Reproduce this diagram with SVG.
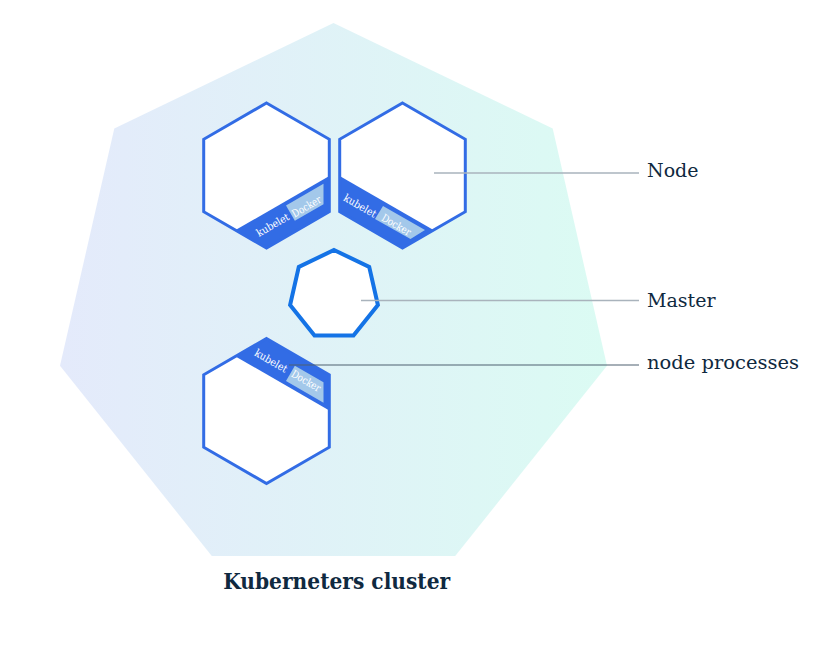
<svg xmlns="http://www.w3.org/2000/svg" width="825" height="649" viewBox="0 0 825 649">
<defs>
<linearGradient id="bg" x1="60" y1="0" x2="608" y2="0" gradientUnits="userSpaceOnUse">
<stop offset="0" stop-color="#e4eafb"/>
<stop offset="1" stop-color="#dbfbf3"/>
</linearGradient>
<style>
.hexw{fill:#ffffff}
.hexs{fill:none;stroke:#326ce5;stroke-width:3;stroke-linejoin:miter}
.band{fill:#326ce5}
.dock{fill:#a3c8ea}
.small{font-family:"DejaVu Serif","Liberation Serif",serif;font-size:10.5px;fill:#ffffff}
.lbl{font-family:"DejaVu Serif","Liberation Serif",serif;font-size:19px;fill:#0f2940}
.ttl{font-family:"DejaVu Serif","Liberation Serif",serif;font-size:21.5px;font-weight:bold;fill:#0f2940}
.lead{stroke:#a9b3bc;stroke-width:1.5;fill:none}
.lead2{stroke:#4f6070;stroke-width:1.2;fill:none}
</style>
</defs>
<rect width="825" height="649" fill="#ffffff"/>
<g id="cluster">
<polygon points="333.5,23 552.7,128.6 607,365.8 455.2,556 211.8,556 60,365.8 114.3,128.6" fill="url(#bg)"/>
<text class="ttl" x="336.7" y="589" text-anchor="middle" textLength="227" lengthAdjust="spacingAndGlyphs">Kuberneters cluster</text>
</g>
<g id="node1">
<polygon class="hexw" points="266.5,103 329.3,139.25 329.3,211.75 266.5,248 203.7,211.75 203.7,139.25"/>
<polygon class="band" points="235.5,230.1 329.3,176 329.3,211.75 266.5,248"/>
<polygon class="dock" points="286,205.5 323.5,183.85 323.5,204.3 294.85,220.8"/>
<text class="small" transform="translate(274.5,228) rotate(-30)" text-anchor="middle" textLength="36" lengthAdjust="spacingAndGlyphs">kubelet</text>
<text class="small" transform="translate(308.4,209.7) rotate(-30)" text-anchor="middle" textLength="32" lengthAdjust="spacingAndGlyphs">Docker</text>
<polygon class="hexs" points="266.5,103 329.3,139.25 329.3,211.75 266.5,248 203.7,211.75 203.7,139.25"/>
</g>
<g id="node2">
<polygon class="hexw" points="402.5,103 465.3,139.25 465.3,211.75 402.5,248 339.7,211.75 339.7,139.25"/>
<polygon class="band" points="339.7,176 433.5,230.1 402.5,248 339.7,211.75"/>
<polygon class="dock" points="383,206 425,230 410.5,239 375,219"/>
<text class="small" transform="translate(358.3,209) rotate(30)" text-anchor="middle" textLength="36" lengthAdjust="spacingAndGlyphs">kubelet</text>
<text class="small" transform="translate(394.5,228) rotate(30)" text-anchor="middle" textLength="32" lengthAdjust="spacingAndGlyphs">Docker</text>
<polygon class="hexs" points="402.5,103 465.3,139.25 465.3,211.75 402.5,248 339.7,211.75 339.7,139.25"/>
</g>
<g id="node3">
<polygon class="hexw" points="266.5,338.5 329.3,374.75 329.3,447.25 266.5,483.5 203.7,447.25 203.7,374.75"/>
<polygon class="band" points="235.5,356.4 329.3,410.5 329.3,374.75 266.5,338.5"/>
<polygon class="dock" points="294.85,365.7 323.5,382.2 323.5,402.65 286,381"/>
<text class="small" transform="translate(269.3,364) rotate(30)" text-anchor="middle" textLength="36" lengthAdjust="spacingAndGlyphs">kubelet</text>
<text class="small" transform="translate(304.3,384) rotate(30)" text-anchor="middle" textLength="32" lengthAdjust="spacingAndGlyphs">Docker</text>
<polygon class="hexs" points="266.5,338.5 329.3,374.75 329.3,447.25 266.5,483.5 203.7,447.25 203.7,374.75"/>
</g>
<g id="master">
<polygon points="334,250 369.2,266.9 377.9,305 353.5,335.5 314.5,335.5 290.1,305 298.8,266.9" fill="#ffffff" stroke="#1473e6" stroke-width="4" stroke-linejoin="miter"/>
</g>
<g id="connectors">
<line class="lead" x1="434" y1="173" x2="639" y2="173"/>
<line class="lead" x1="361" y1="300.5" x2="639" y2="300.5"/>
<line class="lead2" x1="289" y1="365" x2="639" y2="365"/>
</g>
<g id="labels">
<text class="lbl" x="647" y="176.5">Node</text>
<text class="lbl" x="647" y="307">Master</text>
<text class="lbl" x="647" y="368.5" textLength="152" lengthAdjust="spacingAndGlyphs">node processes</text>
</g>
</svg>
